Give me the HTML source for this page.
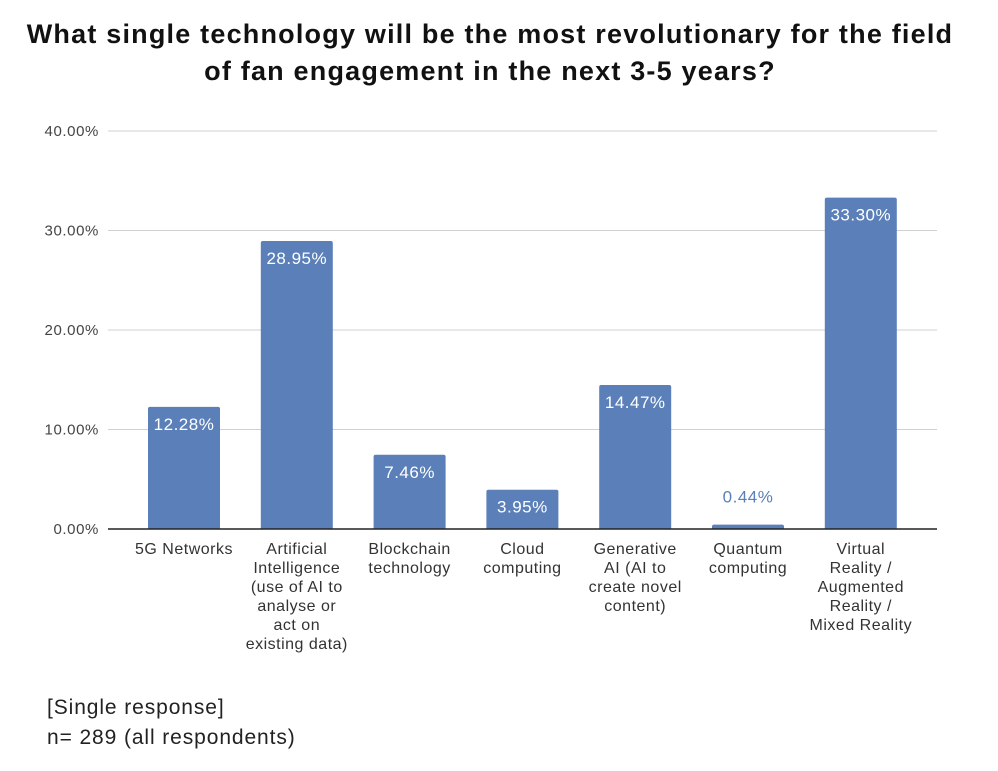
<!DOCTYPE html>
<html><head><meta charset="utf-8"><style>
body{margin:0;background:#fff;width:998px;height:771px;overflow:hidden;font-family:"Liberation Sans",sans-serif}
#title{position:absolute;left:0;width:980px;top:16px;text-align:center;font-weight:bold;font-size:27px;letter-spacing:1.2px;line-height:37px;color:#111}
.note{position:absolute;left:47px;font-size:21px;letter-spacing:0.9px;color:#222}
</style></head><body>
<div id="title">What single technology will be the most revolutionary for the field<br>of fan engagement in the next 3-5 years?</div>
<svg id="chart" width="998" height="771" style="position:absolute;left:0;top:0"></svg>
<div class="note" style="top:696px">[Single response]</div>
<div class="note" style="top:726px">n= 289 (all respondents)</div>
<script>
const categories=[["5G Networks"],["Artificial","Intelligence","(use of AI to","analyse or","act on","existing data)"],["Blockchain","technology"],["Cloud","computing"],["Generative","AI (AI to","create novel","content)"],["Quantum","computing"],["Virtual","Reality /","Augmented","Reality /","Mixed Reality"]];
const values=[12.28,28.95,7.46,3.95,14.47,0.44,33.30];
const ticks=[0,10,20,30,40];
const NS="http://www.w3.org/2000/svg",svg=document.getElementById("chart");
const x0=108,x1=937,y0=529,yTop=131,ymax=40;
const y=v=>y0-(v/ymax)*(y0-yTop);
const band=112.8;
const xc=i=>184+band*i;
function mk(t,a){const e=document.createElementNS(NS,t);for(const k in a)e.setAttribute(k,a[k]);svg.appendChild(e);return e;}
ticks.forEach(t=>{
 if(t>0){const g=mk("line",{x1:x0,x2:x1,y1:y(t),y2:y(t),stroke:"#d0d0d0","stroke-width":1});
 
 }
 const l=mk("text",{x:99,y:y(t)+5,"text-anchor":"end","font-size":15,"letter-spacing":0.6,fill:"#444"});l.textContent=t.toFixed(2)+"%";
 
 
});
values.forEach((v,i)=>{
 const bw=72,cx=xc(i);
 const r=mk("path",{d:`M${cx-bw/2},${y0} V${y(v)+2} q0,-2 2,-2 H${cx+bw/2-2} q2,0 2,2 V${y0} Z`,fill:"#5b7fb8"});
 
 
 const inside=(y0-y(v))>30;
 const t=mk("text",{x:cx,y:inside?y(v)+23:y(v)-22,"text-anchor":"middle","font-size":17,"letter-spacing":0.5,fill:inside?"#fff":"#5b7fb8"});
 t.textContent=v.toFixed(2)+"%";
 
 
 categories[i].forEach((s,j)=>{const c=mk("text",{x:cx,y:554+j*19,"text-anchor":"middle","font-size":16,"letter-spacing":0.5,fill:"#333"});c.textContent=s;
 
 });
});
const ax=mk("line",{x1:x0,x2:x1,y1:y0,y2:y0,stroke:"#222","stroke-width":1.5});


</script>
</body></html>
